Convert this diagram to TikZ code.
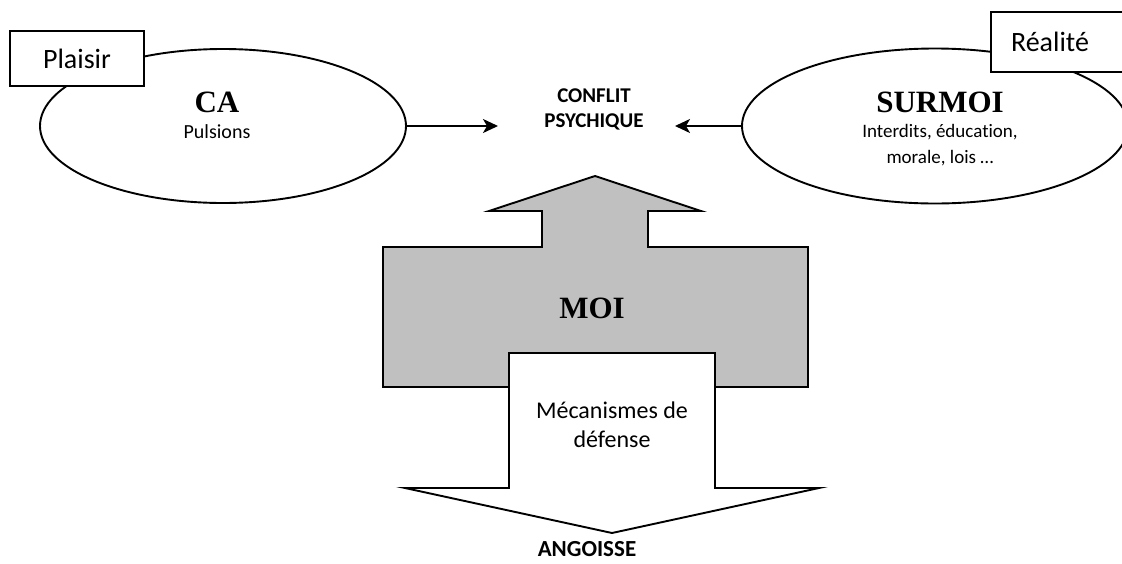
\documentclass[tikz,border=0pt]{standalone}
\usepackage{fontspec}
\setmainfont{Carlito}[Ligatures=NoCommon]
\newfontfamily\tnr{Liberation Serif}
\usetikzlibrary{shapes.geometric,arrows.meta}
\definecolor{moigray}{RGB}{192,192,192}
\tikzset{
  ln/.style={line width=1.9pt, line join=miter},
  ell/.style={ellipse, draw, ln, inner sep=0pt, fill=white},
  boxst/.style={rectangle, draw, ln, fill=white, inner sep=0pt},
  arr/.style={ln, -{Stealth[length=15pt,width=14pt,inset=4pt]}},
  lbl/.style={font=\fontsize{28}{34}\selectfont},
  small/.style={font=\fontsize{20}{26}\selectfont, anchor=base},
  title/.style={font=\tnr\bfseries\fontsize{31}{36}\selectfont, anchor=base},
  bsans/.style={font=\bfseries\fontsize{21}{26}\selectfont, anchor=base},
}
\begin{document}
\begin{tikzpicture}[x=1pt,y=-1pt]
\clip (0,0) rectangle (1122,563);
% ellipses
\node[ell, minimum width=366pt, minimum height=154pt] (ca) at (223,126) {};
\node[ell, minimum width=386pt, minimum height=155pt] (surmoi) at (935,126) {};
% boxes
\node[boxst, lbl, minimum width=134pt, minimum height=55pt] (plaisir) at (77,58.5) {Plaisir};
\node[boxst, minimum width=134pt, minimum height=60pt, anchor=west] (realite) at (990,42) {};
\node[lbl] (realitetxt) at (1050,42) {Réalité};
% ellipse texts
\node[title] (catxt) at (217,112) {CA};
\node[small] (pulsions) at (217,138) {Pulsions};
\node[title] (surmoitxt) at (940,112) {SURMOI};
\node[small, font=\fontsize{19}{24}\selectfont] (interdits) at (940,137) {Interdits, éducation,};
\node[small, font=\fontsize{19}{24}\selectfont] (morale) at (940,163) {morale, lois …};
% conflict
\node[bsans] (conflit) at (594,102) {CONFLIT};
\node[bsans] (psychique) at (594,127) {PSYCHIQUE};
\coordinate (cl) at (498,126);
\coordinate (cr) at (675,126);
\draw[arr] (ca.east) -- (cl);
\draw[arr] (surmoi.west) -- (cr);
% MOI shape
\draw[ln, fill=moigray] (595,176) -- (701,211) -- (648,211) -- (648,247) -- (808,247)
  -- (808,387) -- (383,387) -- (383,247) -- (542,247) -- (542,211) -- (489,211) -- cycle;
\node[title] (moi) at (592,318) {MOI};
% defense arrow
\draw[ln, fill=white] (509,353) -- (715,353) -- (715,488) -- (819,488) -- (612,533)
  -- (405,488) -- (509,488) -- cycle;
\node[font=\fontsize{24}{28}\selectfont, anchor=base] (meca) at (612,418) {Mécanismes de};
\node[font=\fontsize{24}{28}\selectfont, anchor=base] (defense) at (612,447) {défense};
\node[bsans, font=\bfseries\fontsize{23}{28}\selectfont] (angoisse) at (587,556) {ANGOISSE};
\end{tikzpicture}
\end{document}
